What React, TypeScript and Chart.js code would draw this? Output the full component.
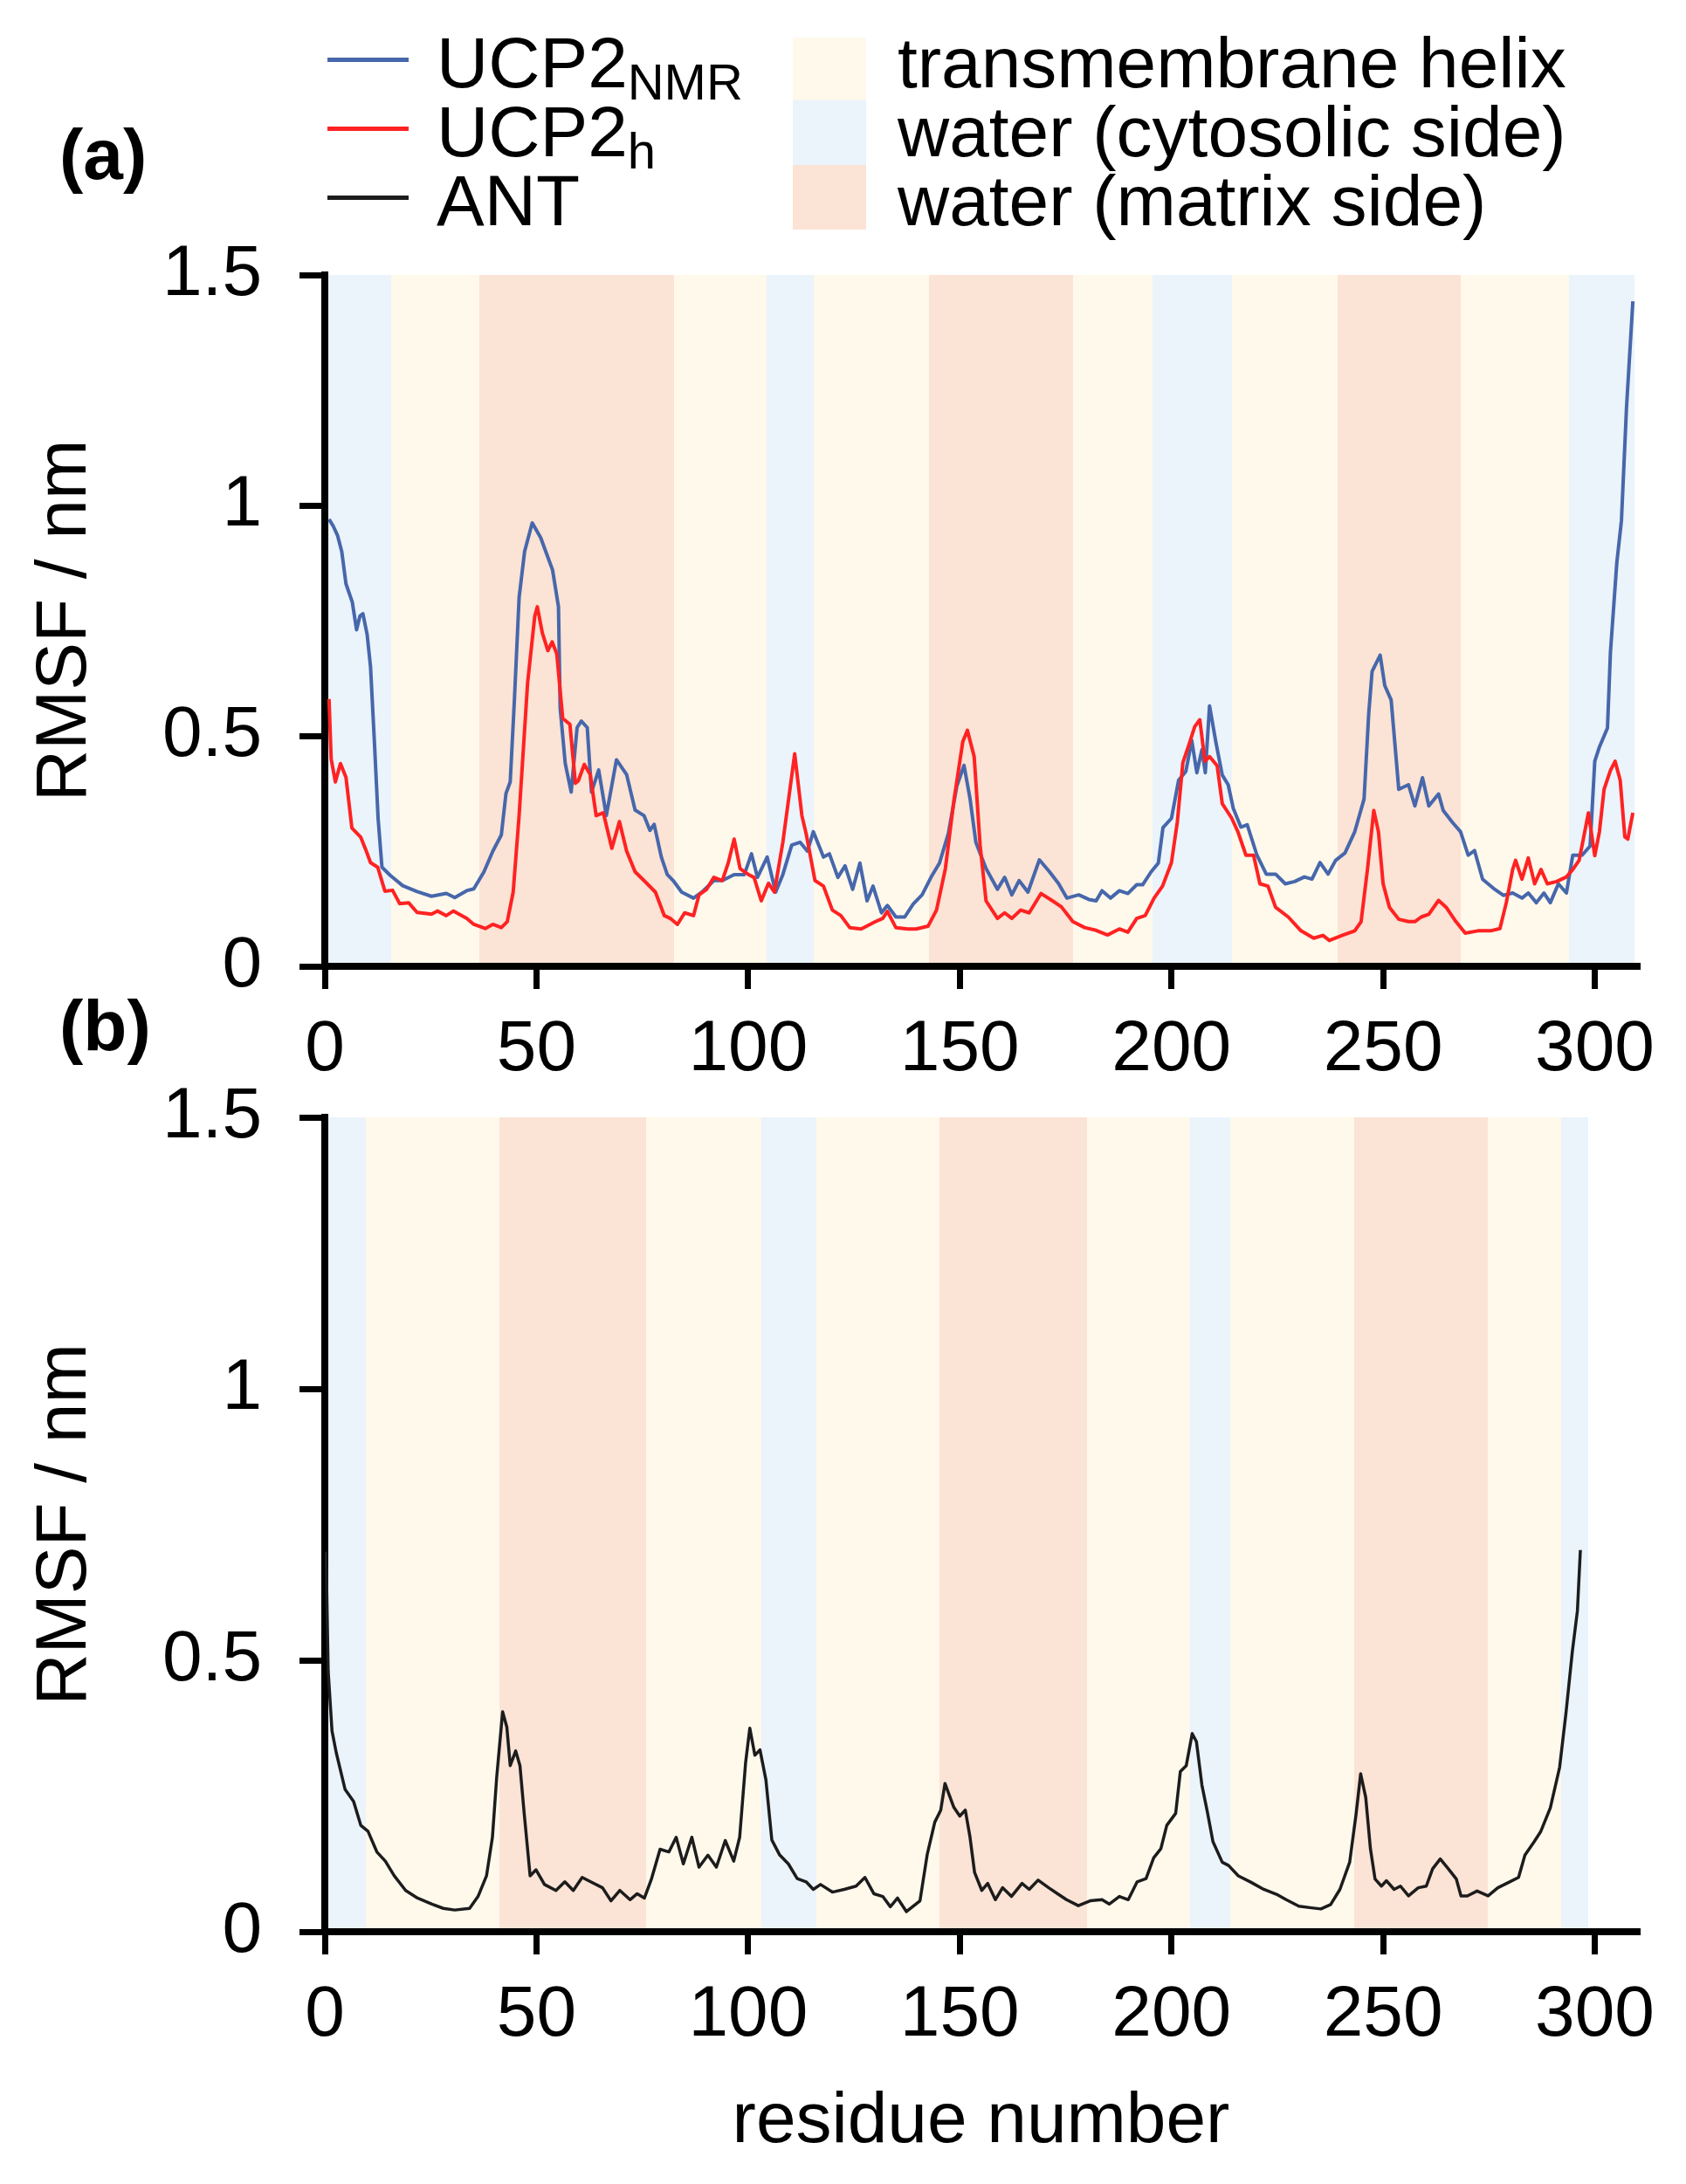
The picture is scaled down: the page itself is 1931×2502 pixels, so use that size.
import React, { useEffect, useRef } from 'react';
import { Chart, registerables } from 'chart.js';

Chart.register(...registerables);

const FONT_FAMILY = '"Liberation Sans", Arial, Helvetica, sans-serif';

// ---- axis ticks ----
const X_TICKS = [0, 50, 100, 150, 200, 250, 300];
const Y_TICKS = [0, 0.5, 1, 1.5];

// ---- series: [residue, RMSF (nm)] ----
const UCP2_NMR: [number, number][] = [
  [1, 0.97], [2, 0.955], [3, 0.935], [4, 0.9], [5, 0.83], [6.5, 0.79], [7.5, 0.73], [8.3, 0.76],
  [9, 0.765], [10, 0.72], [10.8, 0.65], [11.7, 0.49], [12.6, 0.32], [13.5, 0.215], [15.5, 0.197],
  [18.4, 0.175], [21.8, 0.162], [25.2, 0.152], [28.7, 0.158], [30.7, 0.149], [33.5, 0.164],
  [35.2, 0.168], [37.6, 0.205], [39.7, 0.25], [41.7, 0.285], [42.8, 0.375], [43.8, 0.4],
  [44.8, 0.58], [45.9, 0.8], [47.2, 0.9], [49, 0.962], [51, 0.93], [52.4, 0.895], [53.8, 0.86],
  [55.2, 0.78], [55.6, 0.56], [56.8, 0.44], [58.2, 0.378], [59.6, 0.518], [60.6, 0.532],
  [62, 0.518], [63, 0.378], [64.7, 0.426], [66.5, 0.327], [68.9, 0.448], [71.3, 0.416],
  [73.3, 0.339], [75.4, 0.327], [76.8, 0.295], [77.8, 0.308], [79.5, 0.237], [80.9, 0.199],
  [82.3, 0.186], [84.3, 0.161], [87.1, 0.148], [89.1, 0.161], [91.9, 0.186], [93.9, 0.186],
  [96.7, 0.199], [99.1, 0.199], [100.8, 0.244], [102.2, 0.193], [104.5, 0.237], [106.5, 0.161],
  [108.2, 0.199], [110.3, 0.263], [112.3, 0.269], [114, 0.25], [115.4, 0.292], [117.8, 0.237],
  [119.2, 0.244], [121.2, 0.193], [122.9, 0.218], [124.7, 0.167], [126.4, 0.224], [128.1, 0.142],
  [129.5, 0.174], [131.5, 0.116], [132.9, 0.132], [134.9, 0.107], [137, 0.107], [139, 0.135],
  [141.1, 0.155], [143.2, 0.193], [145.2, 0.224], [147.3, 0.288], [149.3, 0.391], [151, 0.436],
  [152.4, 0.365], [153.8, 0.269], [156.2, 0.212], [158.9, 0.167], [160.6, 0.193], [162.3, 0.155],
  [164, 0.186], [166.1, 0.161], [168.8, 0.231], [171.2, 0.205], [173.3, 0.18], [175.3, 0.148],
  [178.1, 0.155], [180.5, 0.145], [182.2, 0.142], [183.6, 0.164], [185.6, 0.148], [187.7, 0.164],
  [189.7, 0.158], [191.8, 0.177], [193.2, 0.177], [195.2, 0.205], [196.9, 0.224], [198, 0.301],
  [200, 0.321], [201.7, 0.404], [203.4, 0.423], [204.8, 0.49], [206, 0.42], [207.2, 0.47],
  [208, 0.42], [209, 0.565], [210.5, 0.486], [212, 0.415], [213.4, 0.394], [214.6, 0.343],
  [216.4, 0.302], [217.9, 0.307], [220.2, 0.241], [222.4, 0.2], [224.6, 0.2], [226.9, 0.179],
  [229.1, 0.184], [231.4, 0.194], [233.2, 0.189], [235.1, 0.225], [237, 0.2], [238.8, 0.23],
  [241, 0.246], [243.3, 0.292], [245.5, 0.363], [246.6, 0.548], [247.4, 0.64], [249.3, 0.675],
  [250.4, 0.609], [251.9, 0.578], [253.7, 0.384], [256, 0.394], [257.5, 0.348], [259.3, 0.409],
  [260.8, 0.348], [263.1, 0.374], [264.2, 0.338], [266.4, 0.312], [268.3, 0.292], [270.1, 0.241],
  [271.6, 0.251], [273.5, 0.189], [276.1, 0.169], [278.4, 0.154], [280.6, 0.159], [282.8, 0.148],
  [284.3, 0.159], [286.2, 0.138], [288, 0.159], [289.5, 0.138], [291.4, 0.179], [293.3, 0.159],
  [294.8, 0.241], [297, 0.241], [298.9, 0.261], [300, 0.445], [301.1, 0.476], [303, 0.517],
  [303.7, 0.681], [305.2, 0.875], [306.3, 0.967], [307.5, 1.213], [309, 1.443],
];

const UCP2_H: [number, number][] = [
  [1, 0.58], [1.5, 0.45], [2.5, 0.4], [3.7, 0.44], [5, 0.41], [6.4, 0.3], [8.5, 0.28], [9.8, 0.25],
  [10.8, 0.225], [12.5, 0.215], [14.2, 0.163], [16, 0.165], [17.7, 0.136], [19.8, 0.138],
  [21.8, 0.117], [25.2, 0.113], [26.6, 0.12], [28.7, 0.11], [30.4, 0.12], [33.5, 0.104],
  [35.2, 0.091], [37.9, 0.082], [39.7, 0.091], [41.7, 0.084], [43.1, 0.097], [44.5, 0.161],
  [45.9, 0.327], [47.9, 0.614], [49.6, 0.76], [50.2, 0.78], [51.4, 0.723], [52.7, 0.685],
  [53.7, 0.704], [54.8, 0.678], [56.2, 0.538], [57.9, 0.525], [59.2, 0.397], [59.9, 0.403],
  [61.3, 0.438], [62.7, 0.416], [64.1, 0.327], [65.8, 0.333], [67.8, 0.256], [69.6, 0.314],
  [71.3, 0.25], [73.3, 0.205], [75.4, 0.186], [78.1, 0.161], [80.2, 0.11], [81.6, 0.104],
  [83.3, 0.091], [85, 0.116], [87.1, 0.11], [88.4, 0.155], [90.2, 0.167], [91.9, 0.193],
  [93.9, 0.186], [95.3, 0.224], [96.7, 0.276], [98.1, 0.212], [100.1, 0.199], [101.4, 0.193],
  [103.1, 0.142], [104.8, 0.18], [106.2, 0.161], [108.2, 0.269], [111, 0.461], [112.7, 0.327],
  [113.7, 0.288], [115.8, 0.186], [117.8, 0.174], [119.9, 0.122], [121.9, 0.11], [124, 0.084],
  [126.7, 0.081], [130.1, 0.097], [131.8, 0.104], [132.9, 0.119], [134.9, 0.084], [137.7, 0.081],
  [139.7, 0.081], [142.5, 0.087], [144.5, 0.122], [146.6, 0.212], [148.6, 0.359], [150.7, 0.487],
  [151.8, 0.512], [153.4, 0.455], [154.8, 0.263], [156.2, 0.142], [158.9, 0.104], [160.6, 0.116],
  [162.3, 0.104], [164.4, 0.122], [166.4, 0.116], [169.2, 0.158], [171.9, 0.142], [174, 0.129],
  [176.7, 0.097], [179.5, 0.084], [182.2, 0.078], [184.9, 0.068], [187.7, 0.081], [189.7, 0.074],
  [191.8, 0.104], [193.8, 0.11], [195.9, 0.148], [197.9, 0.174], [200, 0.225], [201.4, 0.314],
  [202.7, 0.442], [204.1, 0.48], [205.5, 0.52], [206.7, 0.535], [207.9, 0.445], [209, 0.455],
  [210.8, 0.435], [212, 0.353], [214.2, 0.322], [215.7, 0.292], [217.6, 0.241], [219.4, 0.241],
  [220.9, 0.179], [222.8, 0.174], [224.6, 0.128], [227.6, 0.107], [230.6, 0.077], [233.6, 0.061],
  [235.8, 0.067], [237.3, 0.056], [240.3, 0.067], [243.3, 0.077], [244.8, 0.097], [246.3, 0.21],
  [247.8, 0.338], [248.9, 0.292], [250, 0.179], [251.5, 0.128], [253.7, 0.102], [256, 0.097],
  [257.5, 0.097], [259, 0.107], [260.8, 0.113], [263.1, 0.143], [264.9, 0.128], [267.2, 0.097],
  [269.4, 0.072], [272.4, 0.077], [275.4, 0.077], [277.6, 0.082], [279.1, 0.138], [280.6, 0.21],
  [281.3, 0.23], [282.8, 0.189], [284.3, 0.235], [285.8, 0.179], [287.3, 0.21], [288.8, 0.179],
  [291, 0.184], [293.3, 0.194], [294.8, 0.21], [296.3, 0.23], [297.4, 0.281], [298.5, 0.333],
  [300, 0.24], [301.1, 0.292], [302.2, 0.384], [303.7, 0.425], [304.8, 0.445], [306, 0.404],
  [307.1, 0.281], [307.8, 0.276], [309, 0.333],
];

const ANT: [number, number][] = [
  [0.3, 0.7], [0.8, 0.48], [1.7, 0.37], [2.7, 0.33], [4.8, 0.262], [6.8, 0.24], [8.5, 0.196],
  [10.2, 0.185], [12.3, 0.147], [14.3, 0.13], [16.4, 0.103], [19.1, 0.076], [21.9, 0.062],
  [25.3, 0.051], [28, 0.043], [30.7, 0.04], [34.2, 0.043], [36.2, 0.065], [38.2, 0.103],
  [39.6, 0.174], [40.6, 0.284], [42, 0.405], [43, 0.377], [43.8, 0.306], [45.1, 0.333],
  [46.1, 0.306], [47.1, 0.218], [48.5, 0.103], [49.9, 0.114], [51.9, 0.087], [54.6, 0.076],
  [56.7, 0.092], [58.7, 0.076], [60.8, 0.1], [62.8, 0.092], [65.6, 0.081], [67.6, 0.057],
  [69.7, 0.076], [72.1, 0.059], [73.8, 0.07], [75.5, 0.062], [77.2, 0.098], [79.2, 0.152],
  [81.3, 0.147], [83, 0.174], [84.7, 0.125], [86.7, 0.174], [88.4, 0.119], [90.5, 0.141],
  [92.5, 0.119], [94.6, 0.168], [96.6, 0.13], [98, 0.174], [99.4, 0.311], [100.4, 0.375],
  [101.6, 0.325], [102.8, 0.335], [104.2, 0.28], [105.6, 0.169], [107.4, 0.142], [109.5, 0.125],
  [111.6, 0.098], [113.7, 0.092], [115.4, 0.078], [117.1, 0.087], [119.9, 0.073], [122.7, 0.078],
  [125.5, 0.084], [127.6, 0.1], [129.7, 0.07], [131.8, 0.065], [133.6, 0.046], [135.3, 0.062],
  [137.4, 0.037], [140.6, 0.057], [142.3, 0.142], [144.1, 0.202], [145.5, 0.224], [146.5, 0.273],
  [148.6, 0.229], [150, 0.213], [151.3, 0.224], [152.4, 0.175], [153.5, 0.109], [155.2, 0.076],
  [156.6, 0.089], [158.4, 0.059], [160.1, 0.081], [162.2, 0.065], [164.7, 0.089], [166.4, 0.078],
  [168.5, 0.095], [171, 0.081], [173.1, 0.07], [175.2, 0.059], [178, 0.048], [180.8, 0.057],
  [183.6, 0.059], [185.3, 0.051], [187.7, 0.065], [189.8, 0.059], [191.9, 0.092], [194, 0.098],
  [195.8, 0.136], [197.5, 0.153], [198.9, 0.196], [201, 0.218], [202.1, 0.295], [203.5, 0.306],
  [204.9, 0.365], [205.9, 0.35], [207.2, 0.27], [208.5, 0.22], [209.8, 0.166], [212, 0.128],
  [213.5, 0.122], [215.8, 0.103], [218.8, 0.091], [221.8, 0.078], [224.8, 0.069], [227.1, 0.059],
  [230.1, 0.047], [233.1, 0.044], [235.3, 0.042], [237.6, 0.05], [239.8, 0.078], [242.1, 0.128],
  [243.6, 0.216], [244.7, 0.291], [245.9, 0.247], [247, 0.153], [248.1, 0.097], [249.6, 0.084],
  [250.8, 0.094], [252.6, 0.078], [254.1, 0.084], [256, 0.066], [258.3, 0.081], [260.2, 0.084],
  [261.7, 0.116], [263.5, 0.134], [265.4, 0.116], [267.3, 0.097], [268.4, 0.066], [269.9, 0.066],
  [272.2, 0.075], [274.8, 0.066], [277.1, 0.081], [279.7, 0.091], [282, 0.1], [283.5, 0.141],
  [285.7, 0.166], [287.2, 0.184], [289.5, 0.228], [291.7, 0.303], [293.2, 0.403], [294.7, 0.516],
  [295.9, 0.591], [296.6, 0.703],
];

// ---- shaded regions: [from residue, to residue, kind] ----
// kind: T = transmembrane helix, C = water (cytosolic side), M = water (matrix side)
const REGIONS_A: [number, number, string][] = [
  [0, 15.6, 'C'], [15.6, 36.6, 'T'], [36.6, 82.4, 'M'], [82.4, 104.4, 'T'], [104.4, 115.4, 'C'],
  [115.4, 142.8, 'T'], [142.8, 176.7, 'M'], [176.7, 195.5, 'T'], [195.5, 214.2, 'C'],
  [214.2, 239.2, 'T'], [239.2, 268.3, 'M'], [268.3, 294, 'T'], [294, 309.3, 'C'],
];
const REGIONS_B: [number, number, string][] = [
  [0, 9.6, 'C'], [9.6, 41.3, 'T'], [41.3, 75.8, 'M'], [75.8, 103.2, 'T'], [103.2, 116.1, 'C'],
  [116.1, 145.1, 'T'], [145.1, 180.1, 'M'], [180.1, 204.5, 'T'], [204.5, 213.9, 'C'],
  [213.9, 243.2, 'T'], [243.2, 274.8, 'M'], [274.8, 292.1, 'T'], [292.1, 298.5, 'C'],
];

const REGION_LABELS = ['transmembrane helix', 'water (cytosolic side)', 'water (matrix side)'];
const REGION_KINDS = ['T', 'C', 'M'];

// ---- styles ----
const REGION_COLORS: Record<string, string> = { T: '#FFF9EC', C: '#EBF3FB', M: '#FBE3D5' };
const COLOR_NMR = '#4767AB';
const COLOR_H = '#FF2222';
const COLOR_ANT = '#1C1C1C';

const PAGE_W = 1931;
const PAGE_H = 2502;
const AREA_LEFT = 372;
const AREA_RIGHT = 1875;
const FS = 82;

const bandPlugin = {
  id: 'bands',
  beforeDraw(chart: any, _args: any, opts: any) {
    const { ctx, chartArea, scales } = chart;
    const regions: [number, number, string][] = opts.regions || [];
    ctx.save();
    for (const [a, b, kind] of regions) {
      const x1 = Math.round(scales.x.getPixelForValue(a));
      const x2 = Math.round(scales.x.getPixelForValue(b));
      ctx.fillStyle = REGION_COLORS[kind];
      ctx.fillRect(x1, chartArea.top, x2 - x1, chartArea.bottom - chartArea.top);
    }
    ctx.restore();
  },
};

type PanelProps = {
  canvasTop: number;
  canvasH: number;
  areaTop: number;
  areaBottom: number;
  series: { data: [number, number][]; color: string; width: number }[];
  regions: [number, number, string][];
  xTitle: string | null;
};

function Panel({ canvasTop, canvasH, areaTop, areaBottom, series, regions, xTitle }: PanelProps) {
  const ref = useRef<HTMLCanvasElement | null>(null);
  useEffect(() => {
    if (!ref.current) return;
    const tickFont = { family: FONT_FAMILY, size: FS };
    const gridOpts = (len: number) => ({
      display: true,
      drawOnChartArea: false,
      drawTicks: true,
      tickLength: len,
      tickWidth: 7,
      tickColor: '#000',
      color: '#000',
      lineWidth: 7,
    });
    const chart = new Chart(ref.current, {
      type: 'line',
      data: {
        datasets: series.map((s) => ({
          data: s.data.map(([x, y]) => ({ x, y })),
          borderColor: s.color,
          borderWidth: s.width,
          pointRadius: 0,
          fill: false,
          tension: 0,
          borderJoinStyle: 'round',
        })),
      },
      options: {
        animation: false,
        responsive: false,
        devicePixelRatio: 1,
        layout: { padding: { top: areaTop - canvasTop, right: PAGE_W - AREA_RIGHT, left: 0, bottom: 0 } },
        plugins: {
          legend: { display: false },
          tooltip: { enabled: false },
          bands: { regions },
        } as any,
        scales: {
          x: {
            type: 'linear',
            min: 0,
            max: 310,
            afterBuildTicks: (s: any) => {
              s.ticks = X_TICKS.map((v) => ({ value: v }));
            },
            afterFit: (s: any) => {
              s.height = canvasTop + canvasH - areaBottom;
            },
            ticks: {
              font: tickFont,
              color: '#000',
              padding: 21,
              autoSkip: false,
              maxRotation: 0,
              minRotation: 0,
              callback: (v: any) => `${v}`,
            },
            grid: gridOpts(26),
            border: { display: true, color: '#000', width: 8 },
            title: {
              display: !!xTitle,
              text: xTitle || '',
              font: { family: FONT_FAMILY, size: FS },
              color: '#000',
              padding: { top: 0, bottom: 21 },
            },
          },
          y: {
            type: 'linear',
            min: 0,
            max: 1.5,
            afterBuildTicks: (s: any) => {
              s.ticks = Y_TICKS.map((v) => ({ value: v }));
            },
            afterFit: (s: any) => {
              s.width = AREA_LEFT;
            },
            ticks: {
              font: tickFont,
              color: '#000',
              padding: 43,
              callback: (v: any) => `${v}`,
            },
            grid: gridOpts(29),
            border: { display: true, color: '#000', width: 8 },
            title: {
              display: true,
              text: 'RMSF / nm',
              font: { family: FONT_FAMILY, size: FS },
              color: '#000',
              padding: { top: 26, bottom: 0 },
            },
          },
        },
      } as any,
      plugins: [bandPlugin],
    });
    return () => chart.destroy();
  }, []);
  return (
    <canvas
      ref={ref}
      width={PAGE_W}
      height={canvasH}
      style={{ position: 'absolute', left: 0, top: canvasTop, width: PAGE_W, height: canvasH }}
    />
  );
}

const BASE_OFF = 69.4; // baseline offset inside a line box of height FS

function TextAt({ left, baseline, children, bold }: { left: number; baseline: number; children: any; bold?: boolean }) {
  return (
    <div
      style={{
        position: 'absolute',
        left,
        top: baseline - BASE_OFF,
        fontSize: FS,
        lineHeight: `${FS}px`,
        height: FS,
        whiteSpace: 'nowrap',
        fontWeight: bold ? 'bold' : 'normal',
        color: '#000',
      }}
    >
      {children}
    </div>
  );
}

const LEGEND_SERIES = [
  { main: 'UCP2', sub: 'NMR', color: COLOR_NMR },
  { main: 'UCP2', sub: 'h', color: COLOR_H },
  { main: 'ANT', sub: '', color: COLOR_ANT },
];
const LEGEND_BASELINES = [100, 179, 258];
const PATCH_BOUNDS = [43, 115, 189, 263];

export default function App() {
  return (
    <div
      style={{
        position: 'absolute',
        left: 0,
        top: 0,
        width: PAGE_W,
        height: PAGE_H,
        background: '#fff',
        overflow: 'hidden',
        fontFamily: FONT_FAMILY,
      }}
    >
      <Panel
        canvasTop={0}
        canvasH={1262}
        areaTop={315}
        areaBottom={1107}
        series={[
          { data: UCP2_H, color: COLOR_H, width: 4 },
          { data: UCP2_NMR, color: COLOR_NMR, width: 4 },
        ]}
        regions={REGIONS_A}
        xTitle={null}
      />
      <Panel
        canvasTop={1180}
        canvasH={1322}
        areaTop={1280}
        areaBottom={2213}
        series={[{ data: ANT, color: COLOR_ANT, width: 3.5 }]}
        regions={REGIONS_B}
        xTitle="residue number"
      />

      {/* legend: series */}
      {LEGEND_SERIES.map((s, i) => (
        <React.Fragment key={'s' + i}>
          <div
            style={{
              position: 'absolute',
              left: 375,
              top: LEGEND_BASELINES[i] - 34.5,
              width: 93,
              height: 5,
              background: s.color,
            }}
          />
          <TextAt left={500} baseline={LEGEND_BASELINES[i]}>
            {s.main}
            {s.sub ? (
              <span style={{ fontSize: 58, verticalAlign: -14, lineHeight: 0 }}>{s.sub}</span>
            ) : null}
          </TextAt>
        </React.Fragment>
      ))}

      {/* legend: regions */}
      {REGION_KINDS.map((k, i) => (
        <React.Fragment key={'r' + i}>
          <div
            style={{
              position: 'absolute',
              left: 908,
              top: PATCH_BOUNDS[i],
              width: 84,
              height: PATCH_BOUNDS[i + 1] - PATCH_BOUNDS[i],
              background: REGION_COLORS[k],
            }}
          />
          <TextAt left={1028} baseline={LEGEND_BASELINES[i]}>
            {REGION_LABELS[i]}
          </TextAt>
        </React.Fragment>
      ))}

      <TextAt left={68} baseline={205} bold>
        (a)
      </TextAt>
      <TextAt left={68} baseline={1203} bold>
        (b)
      </TextAt>
    </div>
  );
}
